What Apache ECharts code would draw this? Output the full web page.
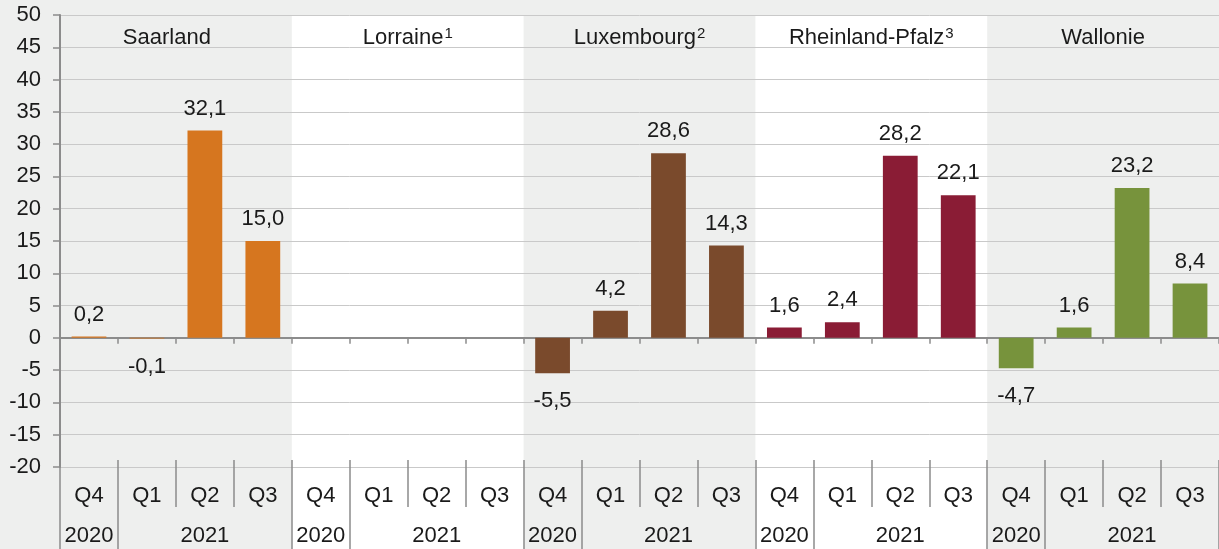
<!DOCTYPE html>
<html>
<head>
<meta charset="utf-8">
<script src="https://cdn.jsdelivr.net/npm/echarts@6/dist/echarts.min.js"></script>
<style>
* { margin: 0; padding: 0; }
html, body { background: #eeefee; }
#main { width: 1219px; height: 549px; }
</style>
</head>
<body>
<div id="main"></div>
<script>
// Daten
var regions = ['Saarland', 'Lorraine', 'Luxembourg', 'Rheinland-Pfalz', 'Wallonie'];
var regionNotes = ['', '1', '2', '3', ''];
var quarters = ['Q4', 'Q1', 'Q2', 'Q3'];
var years = ['2020', '2021', '2021', '2021'];

var saarland = [0.2, -0.1, 32.1, 15.0];
var lorraine = [null, null, null, null];
var luxembourg = [-5.5, 4.2, 28.6, 14.3];
var rheinlandPfalz = [1.6, 2.4, 28.2, 22.1];
var wallonie = [-4.7, 1.6, 23.2, 8.4];

var yTicks = { min: -20, max: 50, step: 5 };

var seriesValues = [saarland, lorraine, luxembourg, rheinlandPfalz, wallonie];
var barColors = ['#d6761f', '#d6761f', '#7a4a2c', '#8a1c35', '#77933c'];

var cats = [], yearCats = [], barData = [];
seriesValues.forEach(function (vals, r) {
  vals.forEach(function (v, q) {
    cats.push(quarters[q]);
    yearCats.push(years[q]);
    barData.push({
      value: v,
      itemStyle: { color: barColors[r] },
      label: v < 0 ? { position: 'bottom', distance: 17 } : { position: 'top', distance: 11 }
    });
  });
});

// weiße Streifen hinter jeder zweiten Region
var bands = regions.map(function (r, i) { return i % 2 ? 1 : null; });

var txt = '#1a1a1a';
var axisGray = '#8c8c8c';
var font = "'Liberation Sans', Arial, sans-serif";

function fmt(v) {
  return v.toFixed(1).replace('.', ',');
}

var chart = echarts.init(document.getElementById('main'));

chart.setOption({
  animation: false,
  textStyle: { fontFamily: font },
  grid: [
    { left: 60, right: 0, top: 15, bottom: 0, outerBoundsMode: 'none' },   // Hintergrund
    { left: 60, right: 0, top: 15, bottom: 82, outerBoundsMode: 'none' }   // Diagramm
  ],
  xAxis: [
    { // Regionen
      gridIndex: 0, type: 'category', position: 'top', data: regions,
      axisLine: { show: false }, axisTick: { show: false },
      axisLabel: {
        interval: 0, inside: true, margin: 11, color: txt, fontSize: 22,
        formatter: function (v, i) {
          if (i === 0) return '{n|' + v + '}{p|}';
          return regionNotes[i] ? '{n|' + v + '}{s|' + regionNotes[i] + '}' : '{n|' + v + '}';
        },
        rich: {
          n: { fontSize: 22, color: txt, fontFamily: font, lineHeight: 24 },
          p: { width: 18 },
          s: { fontSize: 15, color: txt, fontFamily: font, verticalAlign: 'top', lineHeight: 24, padding: [0, 0, 9, 1] }
        }
      }
    },
    { // Nulllinie
      gridIndex: 1, type: 'category', data: cats, position: 'bottom',
      axisLine: { onZero: true, lineStyle: { color: axisGray, width: 2 } },
      axisTick: { show: true, length: 6, lineStyle: { color: axisGray, width: 1.5 } },
      axisLabel: { show: false }
    },
    { // Nulllinie, Striche nach oben
      gridIndex: 1, type: 'category', data: cats, position: 'bottom',
      axisLine: { show: false, onZero: true },
      axisTick: { show: true, inside: true, length: 7, lineStyle: { color: axisGray, width: 1.5 } },
      axisLabel: { show: false }
    },
    { // Quartale
      gridIndex: 1, type: 'category', data: cats, position: 'bottom',
      axisLine: { show: false, onZero: false },
      axisTick: { show: true, length: 40, lineStyle: { color: axisGray, width: 1.5 } },
      axisLabel: { interval: 0, color: txt, fontSize: 22, margin: 18 }
    },
    { // Striche unten nach oben
      gridIndex: 1, type: 'category', data: cats, position: 'bottom',
      axisLine: { show: false, onZero: false },
      axisTick: { show: true, inside: true, length: 7, lineStyle: { color: axisGray, width: 1.5 } },
      axisLabel: { show: false }
    },
    { // Jahre
      gridIndex: 1, type: 'category', data: yearCats, position: 'bottom',
      axisLine: { show: false, onZero: false },
      axisTick: {
        show: true, length: 82, lineStyle: { color: axisGray, width: 1.5 },
        interval: function (i) { return i % 4 === 0 || i % 4 === 1; }
      },
      axisLabel: {
        color: txt, fontSize: 22, margin: 58,
        interval: function (i) { return i % 4 === 0 || i % 4 === 2; }
      }
    }
  ],
  yAxis: [
    { gridIndex: 0, type: 'value', show: false, min: 0, max: 1, splitLine: { show: false } },
    {
      gridIndex: 1, type: 'value',
      min: yTicks.min, max: yTicks.max, interval: yTicks.step,
      axisLine: { show: true, lineStyle: { color: axisGray, width: 2 } },
      axisTick: { show: true, length: 7, lineStyle: { color: axisGray, width: 1.5 } },
      axisLabel: { color: txt, fontSize: 22, margin: 19 },
      splitLine: { lineStyle: { color: '#c9c9c9', width: 1 } }
    }
  ],
  series: [
    {
      type: 'bar',
      xAxisIndex: 0,
      yAxisIndex: 0,
      barWidth: '100%',
      silent: true,
      z: -5,
      itemStyle: { color: '#ffffff' },
      data: bands
    },
    {
      type: 'bar',
      xAxisIndex: 1,
      yAxisIndex: 1,
      barWidth: '60%',
      data: barData,
      label: {
        show: true, color: txt, fontSize: 22,
        formatter: function (p) { return p.value == null ? '' : fmt(p.value); }
      }
    }
  ]
});
</script>
</body>
</html>
